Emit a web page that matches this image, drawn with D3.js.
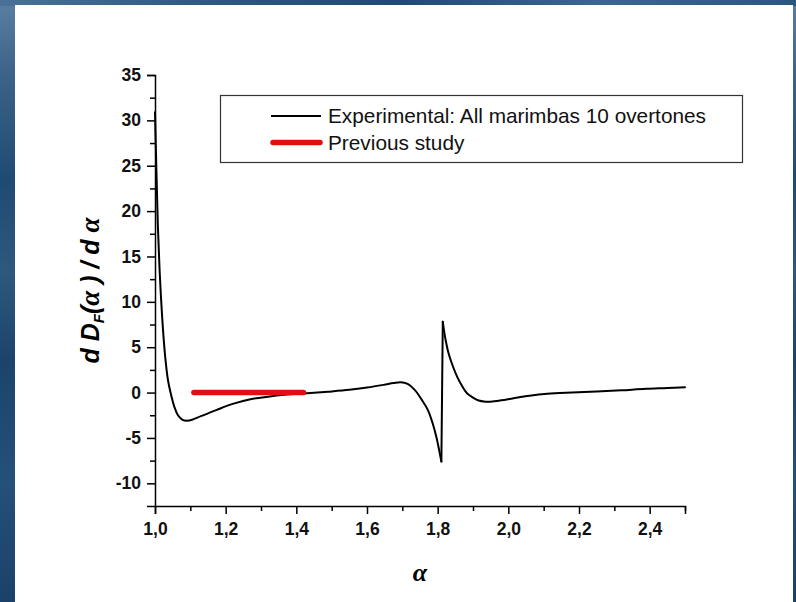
<!DOCTYPE html>
<html>
<head>
<meta charset="utf-8">
<script src="https://cdn.jsdelivr.net/npm/d3@7"></script>
<style>
  html, body { margin: 0; padding: 0; background: #1e4870; }
  svg { display: block; }
</style>
</head>
<body>
<svg id="chart" width="796" height="602"></svg>
<script>
// ---- data ----
const alphaValues = [1.000, 1.004, 1.008, 1.013, 1.018, 1.024, 1.030, 1.037, 1.044, 1.055, 1.065, 1.078, 1.090, 1.105, 1.130, 1.175, 1.220, 1.270, 1.320, 1.365, 1.430, 1.490, 1.550, 1.600, 1.647, 1.675, 1.695, 1.715, 1.735, 1.755, 1.772, 1.786, 1.797, 1.806, 1.8105, 1.8145, 1.822, 1.831, 1.843, 1.855, 1.868, 1.883, 1.900, 1.916, 1.935, 1.950, 1.980, 2.015, 2.060, 2.110, 2.180, 2.250, 2.320, 2.390, 2.450, 2.500];
const derivValues = [30.9, 24.5, 18.5, 13.5, 9.8, 6.2, 3.5, 1.3, 0.0, -1.6, -2.5, -3.0, -3.1, -3.0, -2.6, -1.9, -1.25, -0.73, -0.45, -0.25, -0.07, 0.1, 0.3, 0.55, 0.85, 1.05, 1.15, 0.95, 0.3, -0.8, -1.9, -3.4, -5.0, -6.7, -7.6, 7.8, 5.9, 4.3, 2.9, 1.76, 0.8, -0.07, -0.55, -0.88, -1.0, -1.0, -0.85, -0.62, -0.35, -0.14, 0.0, 0.11, 0.25, 0.41, 0.5, 0.59];
const jumpAlpha = 1.8105; // the curve jumps vertically here
const previousAlpha = [1.11, 1.42];
const previousValue = [0, 0];
const xTickValues = [1.0, 1.2, 1.4, 1.6, 1.8, 2.0, 2.2, 2.4];
const xTickLabels = ["1,0", "1,2", "1,4", "1,6", "1,8", "2,0", "2,2", "2,4"];
const xMinorTicks = [1.1, 1.3, 1.5, 1.7, 1.9, 2.1, 2.3, 2.5];
const yTickValues = [-10, -5, 0, 5, 10, 15, 20, 25, 30, 35];
const yTickLabels = ["-10", "-5", "0", "5", "10", "15", "20", "25", "30", "35"];
const yMinorTicks = [-7.5, -2.5, 2.5, 7.5, 12.5, 17.5, 22.5, 27.5, 32.5];
const seriesNames = ["Experimental: All marimbas 10 overtones", "Previous study"];

// ---- drawing ----
const svg = d3.select("#chart");
const W = 796, H = 602;

// blue frame
const defs = svg.append("defs");
const gV = defs.append("linearGradient").attr("id", "bgV").attr("x1", 0).attr("y1", 0).attr("x2", 0).attr("y2", 1);
[[0, "#5a7fa3"], [0.12, "#3d6488"], [0.3, "#1f4a72"], [0.45, "#2f587d"], [0.6, "#1c446b"], [0.8, "#25507a"], [1, "#1b4168"]]
  .forEach(([o, c]) => gV.append("stop").attr("offset", o).attr("stop-color", c));
const gH = defs.append("linearGradient").attr("id", "bgH").attr("x1", 0).attr("y1", 0).attr("x2", 1).attr("y2", 0);
[[0, "#4b7196"], [0.25, "#2e5a82"], [0.5, "#1e4a73"], [0.75, "#3a6690"], [1, "#2a5680"]]
  .forEach(([o, c]) => gH.append("stop").attr("offset", o).attr("stop-color", c));

svg.append("rect").attr("width", W).attr("height", H).attr("fill", "url(#bgV)");
svg.append("rect").attr("width", W).attr("height", 6).attr("fill", "url(#bgH)");
svg.append("rect").attr("x", 15).attr("y", 5).attr("width", 778).attr("height", H - 5).attr("fill", "#ffffff");

const x = d3.scaleLinear().domain([1.0, 2.5]).range([155, 685]);
const y = d3.scaleLinear().domain([-12.5, 35]).range([506, 75]);

const tickFont = "'Liberation Sans', Arial, sans-serif";

// x axis
svg.append("g").attr("transform", `translate(0,${y(-12.5)})`)
  .call(d3.axisBottom(x).tickValues(xTickValues).tickFormat((d, i) => xTickLabels[i]).tickSizeOuter(0).tickSize(8).tickPadding(9));
svg.append("g").attr("transform", `translate(0,${y(-12.5)})`)
  .call(d3.axisBottom(x).tickValues(xMinorTicks).tickFormat("").tickSizeOuter(0).tickSize(5))
  .select(".domain").remove();

// y axis
svg.append("g").attr("transform", `translate(${x(1.0)},0)`)
  .call(d3.axisLeft(y).tickValues(yTickValues).tickFormat((d, i) => yTickLabels[i]).tickSizeOuter(0).tickSize(8).tickPadding(6));
svg.append("g").attr("transform", `translate(${x(1.0)},0)`)
  .call(d3.axisLeft(y).tickValues(yMinorTicks).tickFormat("").tickSizeOuter(0).tickSize(5))
  .select(".domain").remove();

svg.selectAll(".tick line").attr("stroke", "#000").attr("stroke-width", 1.5);
svg.selectAll(".domain").attr("stroke", "#000").attr("stroke-width", 1.5);
svg.selectAll(".tick text").attr("fill", "#111")
  .style("font-family", tickFont).style("font-weight", "bold").style("font-size", "17.5px");

// axis titles
svg.append("text")
  .attr("x", (x(1.0) + x(2.5)) / 2).attr("y", 581)
  .attr("text-anchor", "middle")
  .style("font-family", "'Liberation Serif', 'DejaVu Serif', serif")
  .style("font-style", "italic").style("font-weight", "bold").style("font-size", "26px")
  .text("α");

const yl = svg.append("text")
  .attr("transform", `translate(99,${(y(-12.5) + y(35)) / 2}) rotate(-90)`)
  .attr("text-anchor", "middle")
  .style("font-family", tickFont).style("font-style", "italic").style("font-weight", "bold").style("font-size", "25px");
yl.append("tspan").text("d D");
yl.append("tspan").attr("dy", 5).style("font-size", "15px").text("F");
yl.append("tspan").attr("dy", -5).text("(");
yl.append("tspan").style("font-family", "'Liberation Serif', serif").style("font-size", "27px").text("α");
yl.append("tspan").text(" ) / d ");
yl.append("tspan").style("font-family", "'Liberation Serif', serif").style("font-size", "27px").text("α");

// series: smooth pieces on each side of the vertical jump, joined by a straight segment
const pts = alphaValues.map((a, i) => [a, derivValues[i]]);
const left = pts.filter(d => d[0] <= jumpAlpha);
const right = pts.filter(d => d[0] > jumpAlpha);
const smooth = d3.line().x(d => x(d[0])).y(d => y(d[1])).curve(d3.curveCatmullRom.alpha(0.5));
const straight = d3.line().x(d => x(d[0])).y(d => y(d[1]));
const curveG = svg.append("g").attr("fill", "none").attr("stroke", "#000").attr("stroke-width", 2)
  .attr("stroke-linejoin", "round").attr("stroke-linecap", "round");
curveG.append("path").datum(left).attr("d", smooth);
curveG.append("path").datum([left[left.length - 1], right[0]]).attr("d", straight);
curveG.append("path").datum(right).attr("d", smooth);

const prev = previousAlpha.map((a, i) => [a, previousValue[i]]);
svg.append("path")
  .datum(prev)
  .attr("fill", "none").attr("stroke", "#e01010").attr("stroke-width", 5.5)
  .attr("stroke-linecap", "round")
  .attr("d", straight);

// legend
const lg = svg.append("g");
lg.append("rect").attr("x", 220.5).attr("y", 95.5).attr("width", 522).attr("height", 67)
  .attr("fill", "#fff").attr("stroke", "#333").attr("stroke-width", 1.2);
lg.append("line").attr("x1", 271).attr("x2", 321).attr("y1", 116).attr("y2", 116)
  .attr("stroke", "#000").attr("stroke-width", 2);
lg.append("line").attr("x1", 273).attr("x2", 320).attr("y1", 142.5).attr("y2", 142.5)
  .attr("stroke", "#e01010").attr("stroke-width", 5.5).attr("stroke-linecap", "round");
lg.selectAll("text.lgt").data(seriesNames).enter().append("text")
  .attr("class", "lgt")
  .attr("x", 328).attr("y", (d, i) => 123 + i * 27)
  .style("font-family", tickFont).style("font-size", "20.8px").attr("fill", "#111")
  .text(d => d);
</script>
</body>
</html>
